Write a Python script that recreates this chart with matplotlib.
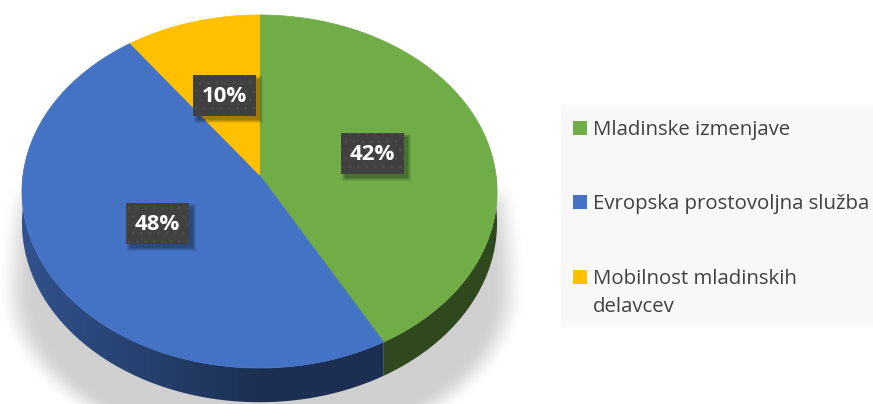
import numpy as np
import matplotlib
matplotlib.use("Agg")
import matplotlib.pyplot as plt
from matplotlib.patches import Polygon, Rectangle

categories = ["Mladinske izmenjave", "Evropska prostovoljna služba", "Mobilnost mladinskih\ndelavcev"]
values = [42, 48, 10]
pct_labels = ["42%", "48%", "10%"]
colors = ["#70AD47", "#4472C4", "#FFC000"]

W, H = 873, 404
plt.rcParams["hatch.linewidth"] = 0.8
fig = plt.figure(figsize=(W / 100, H / 100), dpi=100)
ax = fig.add_axes([0, 0, 1, 1])
ax.set_xlim(0, W)
ax.set_ylim(H, 0)
ax.axis("off")

# perspective projection of the pie disc
cx, cy0 = 259.5, 175.0
A, B, k, D = 236.5, 175.0, 0.0934, 31.0


def proj(t_deg, r=1.0, z=0.0):
    t = np.radians(t_deg)
    u, v = r * np.cos(t), r * np.sin(t)
    w = 1 + k * v
    return cx + A * u / w, cy0 - B * v / w + z * D / w


def smooth(a):
    a = np.clip(a, 0, 1)
    return a * a * (3 - 2 * a)


# soft shadow below the pie
yy, xx = np.mgrid[0:H, 0:W] + 0.5
sx, sy = 262.0, 290.0
bb = np.where(yy < sy, 360.0, 164.0)
dd = np.sqrt(((xx - sx) / 255.0) ** 2 + ((yy - sy) / bb) ** 2)
alpha = 0.26 * smooth((1.04 - dd) / 0.14) * smooth((yy - 178) / 30.0)
img = np.zeros((H, W, 4))
img[..., :3] = 0.30
img[..., 3] = alpha
ax.imshow(img, extent=(0, W, H, 0), zorder=0, interpolation="bilinear")

total = sum(values)
start = 90.0
spans = []
for v in values:
    a0 = start
    a1 = start - v / total * 360.0
    spans.append((a1, a0))
    start = a1

# side walls with horizontal shading gradient
for (a1, a0), col in zip(spans, colors):
    for kk in (-360, 0):
        lo, hi = max(a1, -180 + kk), min(a0, 0 + kk)
        if hi <= lo:
            continue
        ts = np.linspace(lo, hi, 200)
        top = [proj(t) for t in ts]
        bot = [proj(t, z=1.0) for t in ts[::-1]]
        poly = Polygon(top + bot, closed=True, fc="none", ec="none")
        ax.add_patch(poly)
        xs = np.array([p[0] for p in top + bot])
        ys = np.array([p[1] for p in top + bot])
        x0, x1 = xs.min() - 1, xs.max() + 1
        gx = np.linspace(x0, x1, 400)
        f = 0.42 + 0.30 * np.clip((cx - gx) / A, 0, 1)
        base = np.array(matplotlib.colors.to_rgb(col))
        grad = np.clip(base[None, :] * f[:, None], 0, 1)[None, :, :]
        im = ax.imshow(grad, extent=(x0, x1, ys.max() + 1, ys.min() - 1), aspect="auto",
                       zorder=2, interpolation="bilinear")
        im.set_clip_path(poly)

# top faces
for (a1, a0), col in zip(spans, colors):
    ts = np.linspace(a0, a1, 200)
    pts = [proj(0, r=0.0)] + [proj(t) for t in ts]
    ax.add_patch(Polygon(pts, closed=True, fc=col, ec=col, lw=0.5, zorder=3))

# data labels
bw, bh = 63, 41
for (a1, a0), lab in zip(spans, pct_labels):
    lx, ly = proj((a0 + a1) / 2, r=0.5)
    for i, al in enumerate([0.08, 0.09, 0.11, 0.13]):
        g = 4 - i
        ax.add_patch(Rectangle((lx - bw / 2 + 4 - g + 1, ly - bh / 2 + 4 - g + 1), bw + 2 * g - 2,
                               bh + 2 * g - 2, fc="black", ec="none", alpha=al, zorder=4))
    ax.add_patch(Rectangle((lx - bw / 2, ly - bh / 2), bw, bh, fc="#404040", ec="#4c4c4c", lw=0,
                           hatch="..", zorder=5))
    ax.text(lx, ly + 1, lab, ha="center", va="center", color="white", fontsize=16,
            fontweight="bold", family="Open Sans", zorder=6)

# legend
ax.add_patch(Rectangle((561, 105), W - 561, 222, fc="#F8F8F8", ec="none", zorder=1))
row_y = [128, 202, 277]
for cat, col, yc in zip(categories, colors, row_y):
    ax.add_patch(Rectangle((573, yc - 7), 14, 14, fc=col, ec="none", zorder=2))
    for j, line in enumerate(cat.split("\n")):
        ax.text(593, yc + 7.5 + 28 * j, line, ha="left", va="baseline", color="#404040",
                fontsize=14.7, family="Open Sans", zorder=3)

fig.savefig("out.png", dpi=100)
